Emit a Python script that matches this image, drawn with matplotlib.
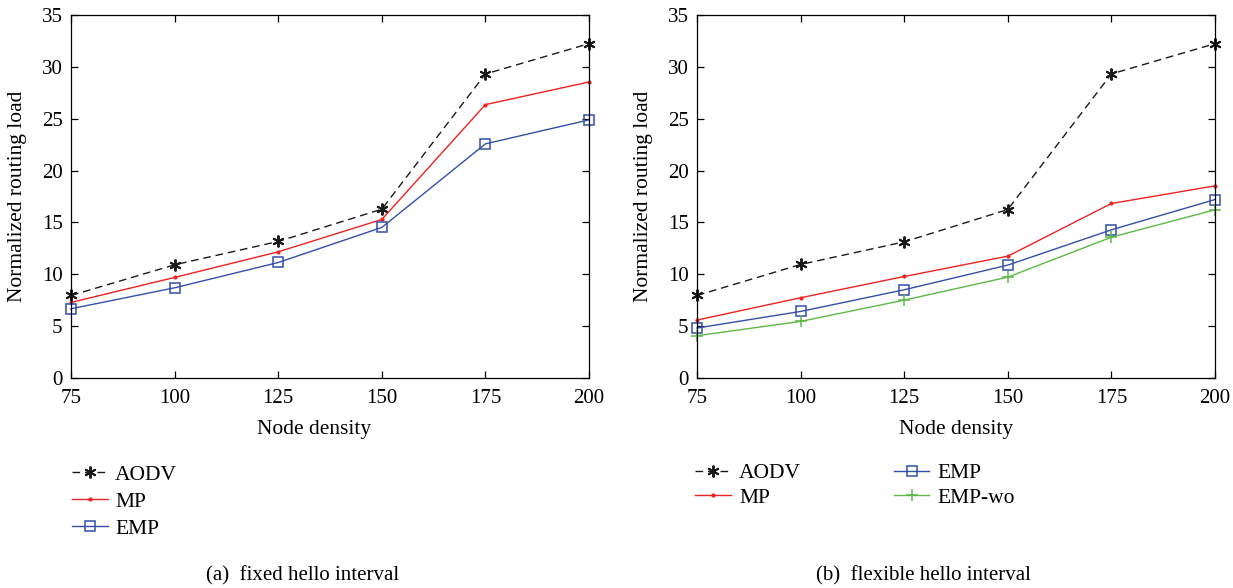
import matplotlib
matplotlib.use("Agg")
import matplotlib.pyplot as plt

plt.rcParams['font.family'] = ['Liberation Serif', 'DejaVu Serif']

# data
node_density = [75, 100, 125, 150, 175, 200]

# (a) fixed hello interval
aodv_a = [7.96, 10.92, 13.17, 16.28, 29.32, 32.24]
mp_a = [7.29, 9.70, 12.17, 15.29, 26.36, 28.55]
emp_a = [6.68, 8.70, 11.14, 14.52, 22.58, 24.89]

# (b) flexible hello interval
aodv_b = [7.96, 10.95, 13.13, 16.25, 29.32, 32.24]
mp_b = [5.59, 7.74, 9.79, 11.75, 16.83, 18.53]
emp_b = [4.82, 6.42, 8.51, 10.89, 14.29, 17.21]
empwo_b = [4.08, 5.46, 7.51, 9.73, 13.58, 16.22]

yticks = [0, 5, 10, 15, 20, 25, 30, 35]

BLACK = '#1a1a1a'
RED = '#ee2222'
BLUE = '#3350a8'
GREEN = '#5cb946'
ASTERISK = (6, 2, 0)
FS = 15.5

fig = plt.figure(figsize=(12.33, 5.88), dpi=100)
ax_a = fig.add_axes([0.0576, 0.3571, 0.4201, 0.6173])
ax_b = fig.add_axes([0.5653, 0.3571, 0.4201, 0.6173])


def style_axes(ax, xlab_x):
    ax.set_xlim(75, 200)
    ax.set_ylim(0, 35)
    ax.set_xticks(node_density)
    ax.set_yticks(yticks)
    ax.tick_params(direction='in', top=True, right=True, labelsize=15,
                   length=5, width=0.9, pad=6)
    ax.tick_params(axis='x', pad=8)
    for sp in ax.spines.values():
        sp.set_linewidth(0.9)
    ax.set_xlabel('Node density', fontsize=FS)
    ax.xaxis.set_label_coords(xlab_x, -0.115)
    ax.set_ylabel('Normalized routing load', fontsize=FS)
    ax.yaxis.set_label_coords(-0.085, 0.5)


def plot_common(ax, aodv, mp, emp):
    ax.plot(node_density, aodv, color=BLACK, linestyle=(0, (5.5, 3.5)), linewidth=1.0,
            marker=ASTERISK, markersize=8.5, markeredgewidth=1.4, label='AODV', clip_on=False)
    ax.plot(node_density, mp, color=RED, linewidth=1.0, marker='.', markersize=4,
            label='MP', clip_on=False)
    ax.plot(node_density, emp, color=BLUE, linewidth=1.0, marker='s', markersize=7.5,
            markerfacecolor='none', markeredgewidth=1.1, label='EMP', clip_on=False)


plot_common(ax_a, aodv_a, mp_a, emp_a)
style_axes(ax_a, 0.469)
ax_a.legend(loc='upper left', bbox_to_anchor=(0.0584, 0.21), bbox_transform=fig.transFigure,
            frameon=False, fontsize=FS, handlelength=1.65, labelspacing=0.33,
            handletextpad=0.35, borderpad=0, borderaxespad=0)

plot_common(ax_b, aodv_b, mp_b, emp_b)
ax_b.plot(node_density, empwo_b, color=GREEN, linewidth=1.0, marker='+', markersize=9,
          markeredgewidth=1.1, label='EMP-wo', clip_on=False)
style_axes(ax_b, 0.5)
ax_b.legend(loc='upper left', bbox_to_anchor=(0.5637, 0.212), bbox_transform=fig.transFigure,
            frameon=False, fontsize=FS, ncol=2, handlelength=1.65, labelspacing=0.2,
            handletextpad=0.4, columnspacing=4.3, borderpad=0, borderaxespad=0)

fig.text(0.2457, 0.0136, '(a)  fixed hello interval', ha='center', va='baseline', fontsize=15)
fig.text(0.749, 0.0136, '(b)  flexible hello interval', ha='center', va='baseline', fontsize=15)

fig.savefig('out.png', dpi=100)
